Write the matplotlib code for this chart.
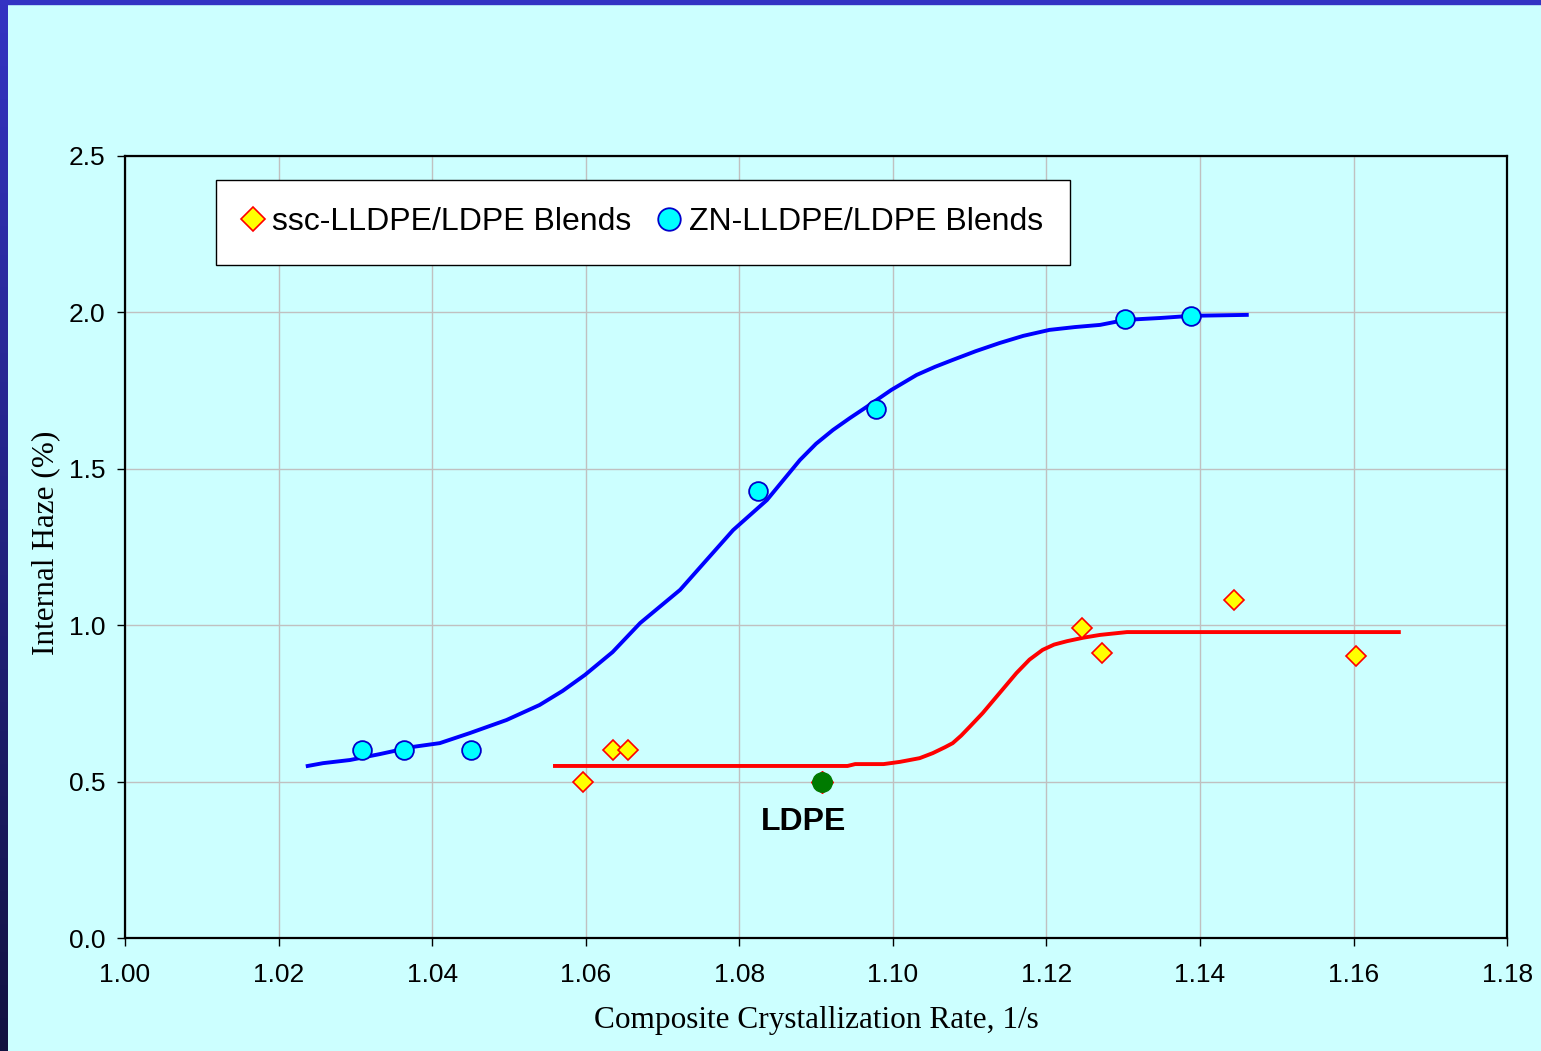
import numpy as np
import matplotlib
matplotlib.use('Agg')
import matplotlib.pyplot as plt

## Measured data
# ssc-LLDPE/LDPE blends
ssc_rate = [1.0596, 1.0635, 1.0655, 1.1246, 1.1272, 1.1444, 1.1603]
ssc_haze = [0.50, 0.60, 0.60, 0.99, 0.91, 1.08, 0.90]
# ZN-LLDPE/LDPE blends
zn_rate = [1.0309, 1.0363, 1.0451, 1.0824, 1.0978, 1.1303, 1.1388]
zn_haze = [0.60, 0.60, 0.60, 1.43, 1.69, 1.98, 1.99]
# pure LDPE
ldpe_rate = [1.0908]
ldpe_haze = [0.50]

## Trend lines (hand drawn through the data)
zn_fit_rate = [1.0238, 1.0258, 1.0293, 1.0332, 1.0375, 1.0410, 1.0449, 1.0497, 1.0540,
               1.0570, 1.0599, 1.0635, 1.0671, 1.0697, 1.0723, 1.0758, 1.0792, 1.0836,
               1.0879, 1.0900, 1.0922, 1.0944, 1.0966, 1.0998, 1.1031, 1.1055, 1.1078,
               1.1108, 1.1139, 1.1170, 1.1204, 1.1237, 1.1270, 1.1303, 1.1348, 1.1389, 1.1461]
zn_fit_haze = [0.550, 0.559, 0.569, 0.588, 0.611, 0.623, 0.655, 0.697, 0.745,
               0.790, 0.841, 0.914, 1.007, 1.060, 1.113, 1.210, 1.304, 1.400,
               1.528, 1.580, 1.624, 1.662, 1.698, 1.752, 1.800, 1.826, 1.848,
               1.876, 1.902, 1.925, 1.944, 1.953, 1.960, 1.976, 1.982, 1.989, 1.992]
ssc_fit_rate = [1.0560, 1.0941, 1.0951, 1.0988, 1.1009, 1.1035, 1.1052, 1.1068, 1.1078,
                1.1089, 1.1100, 1.1117, 1.1139, 1.1161, 1.1178, 1.1195, 1.1210, 1.1227,
                1.1248, 1.1270, 1.1305, 1.1659]
ssc_fit_haze = [0.550, 0.550, 0.556, 0.556, 0.563, 0.575, 0.591, 0.610, 0.623,
                0.647, 0.675, 0.719, 0.783, 0.847, 0.890, 0.921, 0.938, 0.949,
                0.960, 0.969, 0.978, 0.978]

## Options
bg = '#CCFFFF'
fontsize = 19

fig = plt.figure(figsize=(15.41, 10.51), dpi=100, facecolor=bg)
ax = fig.add_axes([0.0811, 0.1075, 0.8969, 0.7441], facecolor=bg)

# slide border: blue strip on top, shaded strip on the left
fig.patches.append(plt.Rectangle((0, 1 - 4 / 1051), 1, 4 / 1051, transform=fig.transFigure,
                                 color='#3333C3', zorder=0))
strip = fig.add_axes([0, 0, 7 / 1541, 1])
shade = np.linspace(0, 1, 256).reshape(-1, 1)
strip.imshow(shade, aspect='auto', cmap=matplotlib.colors.LinearSegmentedColormap.from_list(
    'edge', ['#3333C3', '#121240']))
strip.axis('off')

## Plot
ax.plot(zn_fit_rate, zn_fit_haze, '-', color='#0000FF', lw=2.8, zorder=3)
ax.plot(ssc_fit_rate, ssc_fit_haze, '-', color='#FF0000', lw=2.8, zorder=3)
ax.plot(ssc_rate, ssc_haze, 'D', ms=10, mfc='#FFFF00', mec='#FF0000', mew=1.2, ls='none',
        zorder=4, label='ssc-LLDPE/LDPE Blends')
ax.plot(zn_rate, zn_haze, 'o', ms=13.5, mfc='#00FFFF', mec='#0000CC', mew=1.3, ls='none',
        zorder=4, label='ZN-LLDPE/LDPE Blends')
# LDPE point: diamond underneath a green dot
ax.plot(ldpe_rate, ldpe_haze, 'D', ms=11.5, mfc='#FF0000', mec='#FF0000', ls='none', zorder=5)
ax.plot(ldpe_rate, ldpe_haze, 'o', ms=14, mfc='#007A00', mec='#007A00', ls='none', zorder=6)
ax.text(ldpe_rate[0] - 0.0024, ldpe_haze[0] - 0.13, 'LDPE', fontsize=23, fontweight='bold',
        family='Liberation Sans', ha='center', va='center')

ax.set_xlim(1.00, 1.18)
ax.set_ylim(0.0, 2.5)
ax.set_xticks(np.arange(1.00, 1.181, 0.02))
ax.set_yticks(np.arange(0.0, 2.51, 0.5))
ax.set_xticklabels(['%.2f' % v for v in np.arange(1.00, 1.181, 0.02)])
ax.set_yticklabels(['%.1f' % v for v in np.arange(0.0, 2.51, 0.5)])
ax.grid(True, color='#C0C0C0', lw=1.0)
ax.set_axisbelow(True)
ax.tick_params(direction='out', length=6, width=1, labelsize=fontsize, pad=8)
ax.tick_params(axis='x', pad=12)
for lab in ax.get_xticklabels() + ax.get_yticklabels():
    lab.set_family('Liberation Sans')
for s in ax.spines.values():
    s.set_color('black')
    s.set_linewidth(1.6)

ax.set_xlabel('Composite Crystallization Rate, 1/s', fontsize=22.5, family='Liberation Serif')
ax.set_ylabel('Internal Haze (%)', fontsize=22.5, family='Liberation Serif')
ax.xaxis.set_label_coords(0.5, -0.087)
ax.yaxis.set_label_coords(-0.047, 0.505)

leg = ax.legend(loc='upper left', bbox_to_anchor=(0.0658, 0.969), ncol=2, frameon=True,
                fancybox=False, framealpha=1, facecolor='white', edgecolor='black',
                prop={'family': 'Liberation Sans', 'size': 23}, borderpad=0.85,
                borderaxespad=0, handlelength=0.6, handletextpad=0.3, columnspacing=0.9,
                markerscale=1.2)
leg.get_frame().set_linewidth(1.0)

plt.savefig('out.png', dpi=100, facecolor=bg)
